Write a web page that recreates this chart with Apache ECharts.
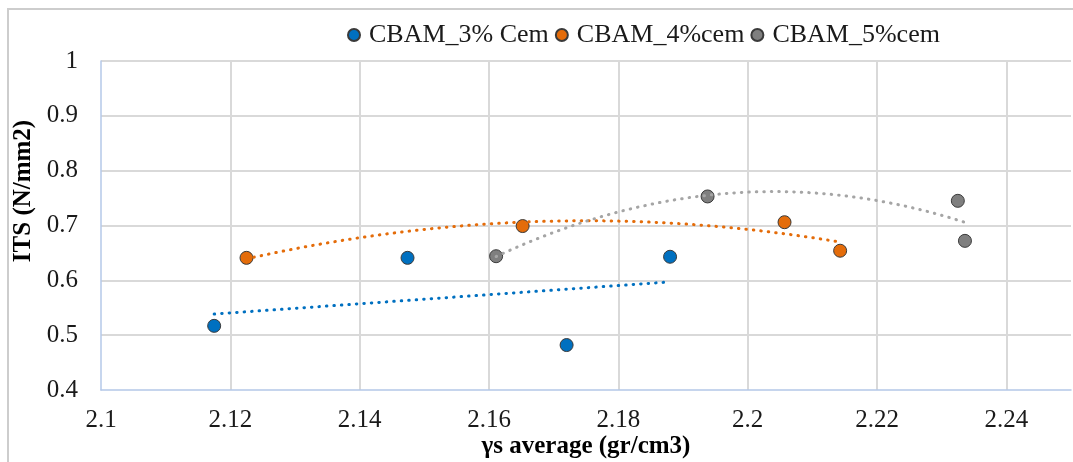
<!DOCTYPE html>
<html><head><meta charset="utf-8">
<script src="https://cdn.jsdelivr.net/npm/echarts@6/dist/echarts.min.js"></script>
<style>html,body{margin:0;padding:0;background:#fff}#c{width:1073px;height:462px}</style>
</head><body><div id="c"></div>
<script>
// ---- data ----
const seriesNames = ['CBAM_3% Cem', 'CBAM_4%cem', 'CBAM_5%cem'];
const cem3X = [2.1175, 2.1474, 2.1720, 2.1880];
const cem3Y = [0.517, 0.641, 0.482, 0.643];
const cem4X = [2.1225, 2.1652, 2.2057, 2.2143];
const cem4Y = [0.641, 0.699, 0.706, 0.654];
const cem5X = [2.1611, 2.1938, 2.2325, 2.2336];
const cem5Y = [0.644, 0.753, 0.745, 0.672];
const trendOrders = [1, 2, 2]; // linear, polynomial(2), polynomial(2)
const xAxisTitle = 'γs average (gr/cm3)';
const yAxisTitle = 'ITS (N/mm2)';

const markerColors = ['#0070C0', '#E46C0A', '#7F7F7F'];
const trendColors = ['#0070C0', '#E46C0A', '#A5A5A5'];
const FONT = '"Liberation Serif", "Times New Roman", serif';

// least-squares polynomial fit (trendline as in the source spreadsheet)
function polyFit(xs, ys, order) {
  const mx = xs.reduce((a, b) => a + b, 0) / xs.length;
  const n = order + 1;
  const A = Array.from({length: n}, () => new Array(n + 1).fill(0));
  xs.forEach((x, k) => {
    const d = x - mx;
    for (let i = 0; i < n; i++) {
      for (let j = 0; j < n; j++) A[i][j] += Math.pow(d, i + j);
      A[i][n] += ys[k] * Math.pow(d, i);
    }
  });
  for (let i = 0; i < n; i++) {
    let p = i;
    for (let r = i + 1; r < n; r++) if (Math.abs(A[r][i]) > Math.abs(A[p][i])) p = r;
    [A[i], A[p]] = [A[p], A[i]];
    for (let r = 0; r < n; r++) {
      if (r === i) continue;
      const f = A[r][i] / A[i][i];
      for (let c = i; c <= n; c++) A[r][c] -= f * A[i][c];
    }
  }
  const coef = A.map((row, i) => row[n] / row[i]);
  return x => coef.reduce((s, c, i) => s + c * Math.pow(x - mx, i), 0);
}
function trend(xs, ys, order) {
  const f = polyFit(xs, ys, order);
  const lo = Math.min(...xs), hi = Math.max(...xs);
  const pts = [];
  const steps = 80;
  for (let i = 0; i <= steps; i++) {
    const x = lo + (hi - lo) * i / steps;
    pts.push([x, f(x)]);
  }
  return pts;
}

const groups = [[cem3X, cem3Y], [cem4X, cem4Y], [cem5X, cem5Y]];
const series = [];
groups.forEach((g, i) => {
  series.push({
    name: seriesNames[i], type: 'scatter', symbol: 'circle', symbolSize: 13,
    itemStyle: {color: markerColors[i], borderColor: '#3A3A3A', borderWidth: 1, opacity: 1},
    data: g[0].map((x, k) => [x, g[1][k]]), z: 3
  });
});
groups.forEach((g, i) => {
  series.push({
    name: seriesNames[i] + ' trend', type: 'line', showSymbol: false, symbol: 'none', smooth: false,
    lineStyle: {color: trendColors[i], width: 3, type: [0.5, 7], cap: 'round'},
    data: trend(g[0], g[1], trendOrders[i]), z: 4, silent: true
  });
});

const chart = echarts.init(document.getElementById('c'));
chart.setOption({
  animation: false,
  backgroundColor: '#fff',
  grid: {left: 101, right: 2, top: 61, bottom: 72, containLabel: false},
  legend: {
    data: seriesNames, left: 342, top: 15, itemGap: 6, itemWidth: 20, itemHeight: 12,
    icon: 'circle',
    textStyle: {fontFamily: FONT, fontSize: 26, color: '#1a1a1a', lineHeight: 30}
  },
  xAxis: {
    type: 'value', min: 2.1, max: 2.25, interval: 0.02,
    axisLine: {show: true, onZero: false, lineStyle: {color: '#B4C8E8', width: 1.5}},
    axisTick: {show: false},
    axisLabel: {fontFamily: FONT, fontSize: 25, color: '#1a1a1a', margin: 18,
      showMaxLabel: false,
      formatter: v => (Math.abs(v - 2.25) < 1e-9 ? '' : String(+v.toFixed(2)))},
    splitLine: {show: true, showMinLine: false, showMaxLine: false, lineStyle: {color: '#D9D9D9', width: 2}}
  },
  yAxis: {
    type: 'value', min: 0.4, max: 1, interval: 0.1,
    axisLine: {show: true, onZero: false, lineStyle: {color: '#B4C8E8', width: 1.5}},
    axisTick: {show: false},
    axisLabel: {fontFamily: FONT, fontSize: 25, color: '#1a1a1a', margin: 23,
      formatter: v => String(+v.toFixed(1))},
    splitLine: {show: true, showMinLine: false, lineStyle: {color: '#D9D9D9', width: 2}}
  },
  graphic: [
    {type: 'rect', z: -10, shape: {x: 8, y: 9, width: 1200, height: 700},
      style: {fill: 'none', stroke: '#CDCDCD', lineWidth: 2}},
    {type: 'text', x: 24, y: 191, rotation: Math.PI / 2,
      style: {text: yAxisTitle, font: 'bold 25px ' + FONT, fill: '#000', align: 'center', verticalAlign: 'middle'}},
    {type: 'text', x: 586, y: 447,
      style: {text: xAxisTitle, font: 'bold 25px ' + FONT, fill: '#000', align: 'center', verticalAlign: 'middle'}}
  ],
  series: series
});
</script>
</body></html>
